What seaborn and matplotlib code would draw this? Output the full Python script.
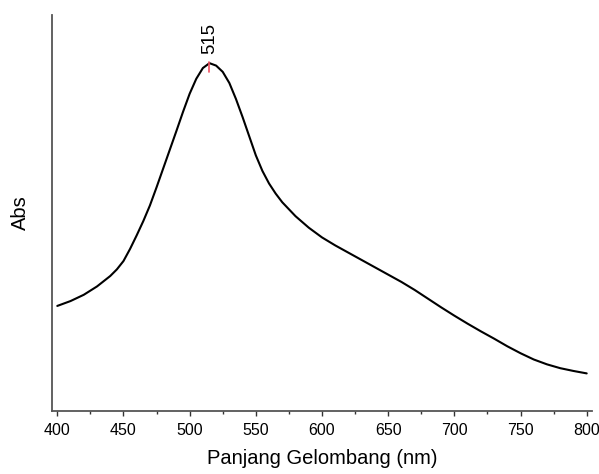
import numpy as np
import pandas as pd
import matplotlib
matplotlib.use('Agg')
import matplotlib.pyplot as plt
import seaborn as sns

# UV-Vis spectrum
wavelength = [400, 410, 420, 430, 440, 445, 450, 455, 460, 465, 470, 475, 480,
              485, 490, 495, 500, 505, 510, 515, 520, 525, 530, 535, 540, 545,
              550, 555, 560, 565, 570, 580, 590, 600, 610, 620, 630, 640, 650,
              660, 670, 680, 690, 700, 710, 720, 730, 740, 750, 760, 770, 780,
              790, 800]
absorbance = [0.302, 0.316, 0.334, 0.358, 0.388, 0.407, 0.431, 0.466, 0.505,
              0.546, 0.591, 0.643, 0.697, 0.751, 0.805, 0.860, 0.912, 0.955,
              0.986, 1.000, 0.993, 0.975, 0.943, 0.897, 0.845, 0.790, 0.735,
              0.690, 0.654, 0.625, 0.600, 0.560, 0.527, 0.499, 0.476, 0.455,
              0.434, 0.413, 0.392, 0.371, 0.348, 0.323, 0.298, 0.274, 0.251,
              0.229, 0.208, 0.186, 0.166, 0.148, 0.134, 0.123, 0.115, 0.108]
peak_wl = 515
peak_abs = 1.000

sns.set_style('white')
plt.rcParams['font.family'] = ['Liberation Sans', 'DejaVu Sans']
plt.rcParams['text.color'] = 'black'
plt.rcParams['axes.labelcolor'] = 'black'
plt.rcParams['xtick.color'] = 'black'

data = pd.DataFrame({'wl': wavelength, 'abs': absorbance})

fig = plt.figure(figsize=(5.99, 4.74), dpi=100)
ax = fig.add_axes([0.0868, 0.133, 0.9015, 0.835])

sns.lineplot(data=data, x='wl', y='abs', ax=ax, color='black', linewidth=1.5)

# peak marker and label
ax.plot([peak_wl, peak_wl], [peak_abs - 0.024, peak_abs + 0.002], color='#f05060', linewidth=1.2)
ax.text(peak_wl, peak_abs + 0.026, str(peak_wl), rotation=90, ha='center', va='bottom',
        fontsize=13.4, color='black')

ax.set_xlim(396, 804)
ax.set_ylim(0, 1.138)
ax.set_xticks(range(400, 801, 50))
ax.set_xticks(range(425, 800, 50), minor=True)
ax.set_yticks([])
ax.tick_params(axis='x', which='major', direction='out', length=3.6, width=1, labelsize=11.5,
               bottom=True, color='#333333', pad=5)
ax.tick_params(axis='x', which='minor', direction='out', length=2.4, width=1, bottom=True, color='#333333')

for s in ['top', 'right']:
    ax.spines[s].set_visible(False)
for s in ['left', 'bottom']:
    ax.spines[s].set_color('#555555')
    ax.spines[s].set_linewidth(1.3)

ax.set_xlabel('Panjang Gelombang (nm)', fontsize=14.5, labelpad=8)
ax.set_ylabel('Abs', fontsize=14.5, labelpad=16)

fig.savefig('out.png', dpi=100)
